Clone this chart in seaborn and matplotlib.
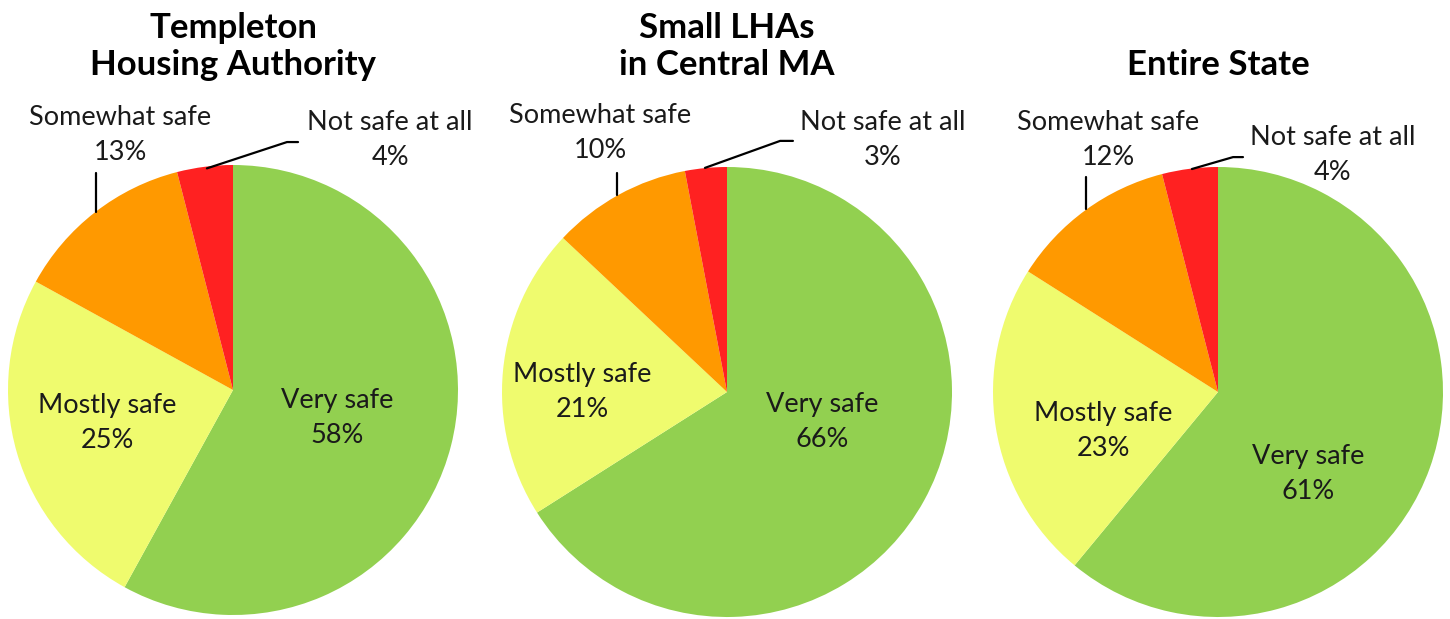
import matplotlib
matplotlib.use("Agg")
import matplotlib.pyplot as plt
import seaborn as sns

# data
categories = ["Very safe", "Mostly safe", "Somewhat safe", "Not safe at all"]
titles = ["Templeton\nHousing Authority", "Small LHAs\nin Central MA", "Entire State"]
templeton = [58, 25, 13, 4]
central_ma = [66, 21, 10, 3]
entire_state = [61, 23, 12, 4]
colors = ["#92D050", "#EFFB6E", "#FF9900", "#FF2121"]

sns.set_theme(style="white")
plt.rcParams["font.family"] = ["Lato", "DejaVu Sans"]

W, H = 1450, 619
R = 225
centers = [(233, 390), (727, 392), (1218, 392)]

# label positions, in units of pie radius relative to the pie centre
label_pos = [
    [(0.462, -0.124), (-0.56, -0.147), (-0.502, 1.133), (0.698, 1.111)],
    [(0.422, -0.133), (-0.644, 0.0), (-0.564, 1.151), (0.693, 1.12)],
    [(0.40, -0.364), (-0.511, -0.173), (-0.489, 1.12), (0.511, 1.053)],
]
leaders = [
    [[(-0.609, 0.964), (-0.609, 0.79)], [(-0.116, 0.985), (0.24, 1.102), (0.289, 1.102)]],
    [[(-0.489, 0.973), (-0.489, 0.875)], [(-0.098, 0.996), (0.236, 1.116), (0.293, 1.116)]],
    [[(-0.587, 0.956), (-0.587, 0.812)], [(-0.116, 0.991), (0.067, 1.044), (0.111, 1.044)]],
]

fig = plt.figure(figsize=(W / 100, H / 100), dpi=100)

for values, title, (cx, cy), pos, lines in zip(
        [templeton, central_ma, entire_state], titles, centers, label_pos, leaders):
    ax = fig.add_axes([(cx - R) / W, (H - cy - R) / H, 2 * R / W, 2 * R / H])
    ax.pie(values, colors=colors, startangle=90, counterclock=False,
           wedgeprops=dict(linewidth=0))
    ax.set_xlim(-1, 1)
    ax.set_ylim(-1, 1)
    ax.axis("off")

    for cat, v, (x, y) in zip(categories, values, pos):
        ax.text(x, y, f"{cat}\n{v}%", ha="center", va="center", fontsize=19.5,
                color="#1a1a1a", linespacing=1.5, clip_on=False)
    for seg in lines:
        xs, ys = zip(*seg)
        ax.plot(xs, ys, color="black", lw=1.6, clip_on=False)

    fig.text(cx / W, (H - 75) / H, title, ha="center", va="baseline",
             fontsize=25, fontweight="bold", color="black", linespacing=1.2)

fig.savefig("out.png", dpi=100)
